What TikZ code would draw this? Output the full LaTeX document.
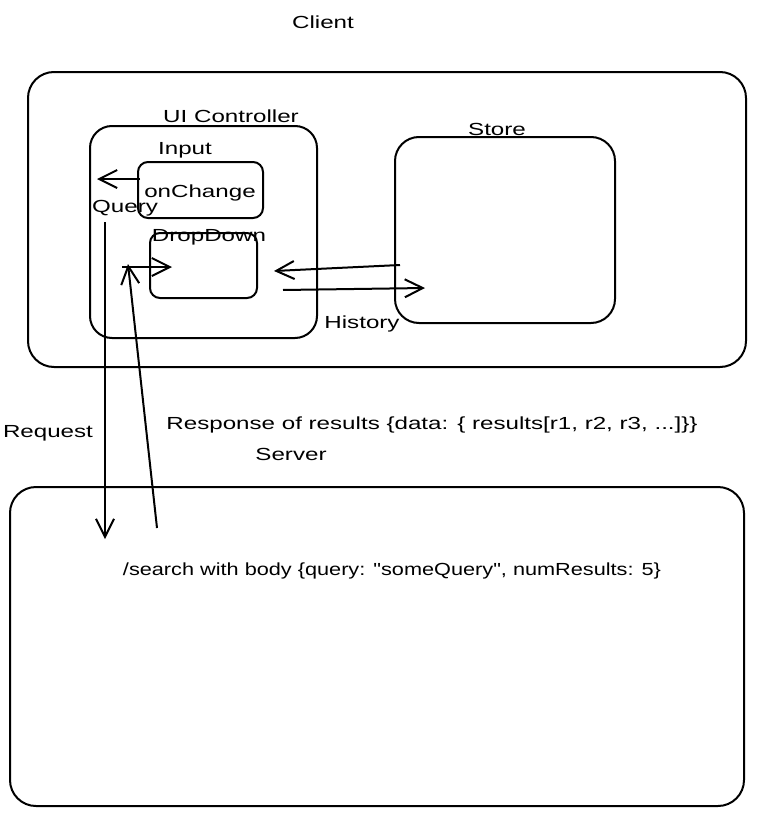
\documentclass[tikz,border=0pt]{standalone}
\usepackage{fontspec}
\setmainfont{Liberation Sans}[FakeStretch=1.38, Ligatures=TeXOff]
\newfontfamily\narrowlbl{Liberation Sans}[FakeStretch=1.24, Ligatures=TeXOff]
\usetikzlibrary{arrows.meta}
\begin{document}
\begin{tikzpicture}[x=1pt,y=-1pt,
  box/.style={draw=black, line width=2pt, rounded corners=#1, inner sep=0pt},
  box/.default=20pt,
  lbl/.style={font=\fontsize{17.5}{20}\selectfont, inner sep=0pt},
  conn/.style={draw=black, line width=2pt,
    -{Straight Barb[length=18pt,width=18pt,line width=2pt]}}
]
\useasboundingbox (0,0) rectangle (756,816);

% containers
\node[box=26pt, minimum width=718pt, minimum height=295pt] (client) at (387,219.5) {};
\node[box=22pt, minimum width=227pt, minimum height=212pt] (ui) at (203.5,232) {};
\node[box=10pt, minimum width=125pt, minimum height=56pt] (input) at (200.5,190) {};
\node[box=10pt, minimum width=107pt, minimum height=65pt] (dropdown) at (203.5,265.5) {};
\node[box=24pt, minimum width=220pt, minimum height=186pt] (store) at (505,230) {};
\node[box=26pt, minimum width=734pt, minimum height=319pt] (server) at (377,646.5) {};

% labels
\node[lbl] (tclient) at (323,22) {Client};
\node[lbl] (tui) at (231,116) {UI Controller};
\node[lbl] (tinput) at (185,150) {Input};
\node[lbl] (tchange) at (200,193) {onChange};
\node[lbl] (tquery) at (125,208) {Query};
\node[lbl] (tdrop) at (209,237) {DropDown};
\node[lbl] (tstore) at (497,129) {Store};
\node[lbl] (thist) at (362,324) {History};
\node[lbl] (treq) at (48,433) {Request};
\node[lbl] (tresp) at (432,425) {Response of results \{data: \{ results[r1, r2, r3, ...]\}\}};
\node[lbl] (tserver) at (291,454) {Server};
\node[lbl] (tsearch) at (392,571) {\narrowlbl /search with body \{query: "someQuery", numResults: 5\}};

% connector end points
\coordinate (qa) at (140,179);
\coordinate (qb) at (97,179);
\coordinate (reqa) at (105,222);
\coordinate (reqb) at (105,539);
\coordinate (resa) at (157,528);
\coordinate (resb) at (128,264);
\coordinate (dda) at (122,267);
\coordinate (ddb) at (172,267);
\coordinate (sta) at (400,265);
\coordinate (stb) at (274,271);
\coordinate (hia) at (283,290);
\coordinate (hib) at (425,288);

% connectors
\draw[conn] (qa) -- (qb);
\draw[conn] (reqa) -- (reqb);
\draw[conn] (resa) -- (resb);
\draw[conn] (dda) -- (ddb);
\draw[conn] (sta) -- (stb);
\draw[conn] (hia) -- (hib);
\end{tikzpicture}
\end{document}
